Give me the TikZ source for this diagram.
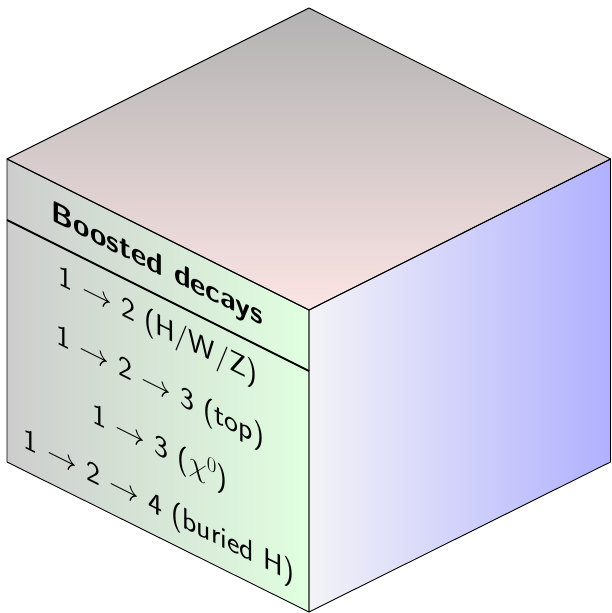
\RequirePackage{fix-cm}
\documentclass[tikz,border=0pt]{standalone}
\usepackage{tikz}
\definecolor{topA}{RGB}{178,178,178}
\definecolor{topB}{RGB}{252,228,228}
\definecolor{leftA}{RGB}{205,205,205}
\definecolor{leftB}{RGB}{224,255,224}
\definecolor{rightA}{RGB}{243,243,247}
\definecolor{rightB}{RGB}{176,176,255}
\begin{document}
\begin{tikzpicture}[x=1pt,y=-1pt,
  edge/.style={draw=black,line width=0.9pt,line join=round},
  facetext/.style={yslant=-0.5,font=\sffamily\fontsize{29.7}{36}\selectfont,inner sep=0pt},
  headtext/.style={yslant=-0.5,font=\sffamily\bfseries\fontsize{29.7}{36}\selectfont,inner sep=0pt}]
\useasboundingbox (0,0) rectangle (611,613);
\coordinate (T) at (309,8);
\coordinate (L) at (7,159);
\coordinate (R) at (610.5,159);
\coordinate (F) at (309,310);
\coordinate (LB) at (7,462);
\coordinate (RB) at (610.5,462);
\coordinate (B) at (309,612);
\coordinate (S1) at (7,220);
\coordinate (S2) at (309,371);
% faces
\shade[top color=topA,bottom color=topB] (T) -- (R) -- (F) -- (L) -- cycle;
\shade[left color=leftA,right color=leftB] (L) -- (F) -- (B) -- (LB) -- cycle;
\shade[left color=rightA,right color=rightB] (F) -- (R) -- (RB) -- (B) -- cycle;
\draw[edge] (T) -- (R) -- (F) -- (L) -- cycle;
\draw[edge] (L) -- (F) -- (B) -- (LB) -- cycle;
\draw[edge] (F) -- (R) -- (RB) -- (B) -- cycle;
% separator
\draw[line width=1.8pt] (S1) -- (S2);
% texts
\node[headtext] (h) at (157,266) {Boosted decays};
\node[facetext] (l1) at (158,327) {1 $\to$ 2 (H/W/Z)};
\node[facetext] (l2) at (160,388) {1 $\to$ 2 $\to$ 3 (top)};
\node[facetext] (l3) at (160,448) {1 $\to$ 3 ($\chi^0$)};
\node[facetext] (l4) at (159,508) {1 $\to$ 2 $\to$ 4 (buried H)};
\end{tikzpicture}
\end{document}
